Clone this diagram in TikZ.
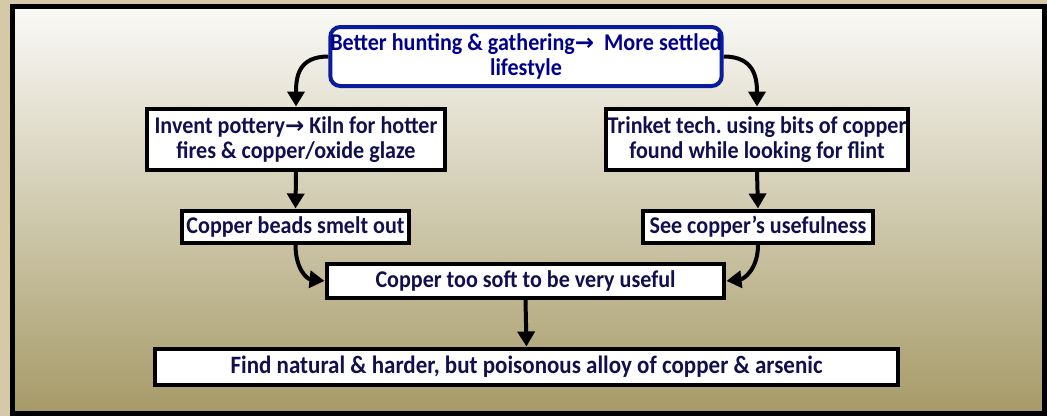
\documentclass[tikz,border=0pt]{standalone}
\usepackage{fontspec}
\setmainfont[FakeStretch=0.92]{Carlito}
\newfontfamily\arrowfont{DejaVu Sans}
\usetikzlibrary{arrows.meta}
\frenchspacing

\definecolor{paneltop}{HTML}{FAFAF7}
\definecolor{panelbot}{HTML}{A69A67}
\definecolor{outerbg}{HTML}{D5C9A7}
\definecolor{boxtext}{HTML}{10104E}
\definecolor{headblue}{HTML}{0A1C9E}
\definecolor{headtext}{HTML}{00008C}

\newcommand{\thenarrow}{{\arrowfont\bfseries\fontsize{23}{25}\selectfont →}}

\begin{document}
\begin{tikzpicture}[x=1pt,y=-1pt,
  stagebox/.style={draw=black, line width=4pt, fill=white, inner sep=0pt,
    font=\bfseries\fontsize{24}{25.5}\selectfont, text=boxtext, align=center},
  headbox/.style={stagebox, draw=headblue, text=headtext, rounded corners=10pt},
  flow/.style={line width=4pt, draw=black, shorten >=0.5pt,
    -{Triangle[length=15pt,width=17pt]}}]

  % page background and framed panel
  \fill[outerbg] (0,0) rectangle (1047,416);
  \shade[top color=paneltop, bottom color=panelbot] (12,6) rectangle (1044,414);
  \draw[line width=5pt] (12.5,6.5) rectangle (1044.5,413.5);

  % stages
  \node[headbox, minimum width=388pt, minimum height=59pt] (top) at (526,56.5)
    {Better hunting \& gathering\thenarrow\ \ More settled\\lifestyle};
  \node[stagebox, minimum width=298pt, minimum height=61pt] (pot) at (296,139.5)
    {Invent pottery\thenarrow\ Kiln for hotter\\fires \& copper/oxide glaze};
  \node[stagebox, minimum width=302pt, minimum height=61pt] (trk) at (757,139.5)
    {Trinket tech. using bits of copper\\found while looking for flint};
  \node[stagebox, minimum width=227pt, minimum height=32pt] (bead) at (295.5,227)
    {Copper beads smelt out};
  \node[stagebox, minimum width=230pt, minimum height=32pt] (use) at (758,227)
    {See copper’s usefulness};
  \node[stagebox, minimum width=397pt, minimum height=34pt] (soft) at (525.5,281)
    {Copper too soft to be very useful};
  \node[stagebox, minimum width=743pt, minimum height=36pt,
        font=\bfseries\fontsize{25}{26}\selectfont] (alloy) at (526.5,367)
    {Find natural \& harder, but poisonous alloy of copper \& arsenic};

  % connectors
  \draw[flow] (top.west) .. controls +(-30,0) and +(0,-30) .. (pot.north);
  \draw[flow] (top.east) .. controls +(30,0) and +(0,-30) .. (trk.north);
  \draw[flow] (pot.south) -- (bead.north);
  \draw[flow] (trk.south) -- (use.north);
  \draw[flow] (bead.south) .. controls +(0,24) and +(-18,-2) .. (soft.west);
  \draw[flow] (use.south) .. controls +(0,24) and +(18,-2) .. (soft.east);
  \draw[flow] (soft.south) -- (alloy.north);
\end{tikzpicture}
\end{document}
